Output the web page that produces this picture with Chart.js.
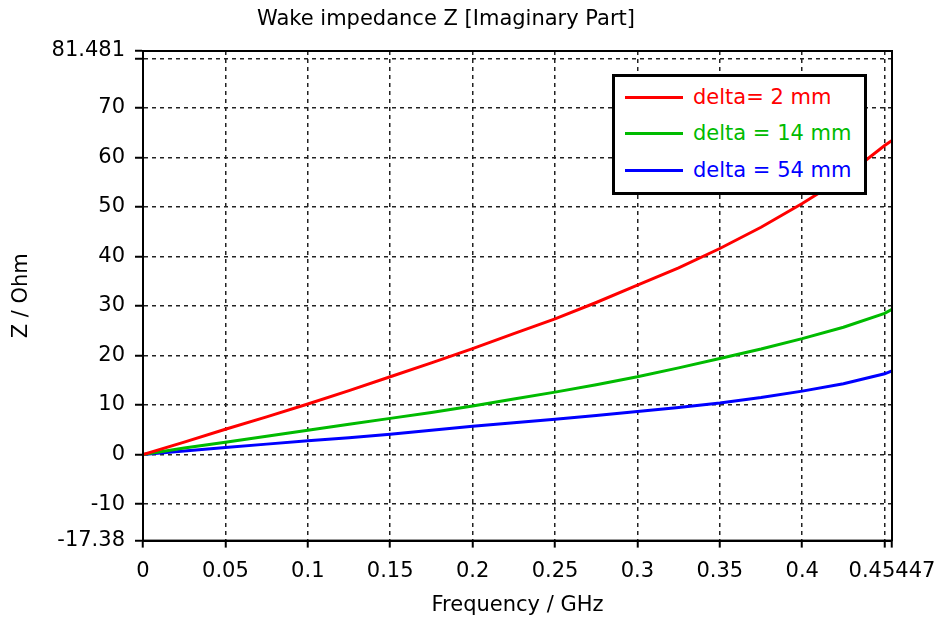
<!DOCTYPE html>
<html>
<head>
<meta charset="utf-8">
<script src="https://cdn.jsdelivr.net/npm/chart.js@4/dist/chart.umd.min.js"></script>
<style>
  html, body { margin: 0; padding: 0; background: #fff; }
  #wrap { position: relative; width: 937px; height: 620px; }
  #c { position: absolute; left: 0; top: 0; }
  #legend {
    position: absolute; left: 612px; top: 74px; width: 249px; height: 115px;
    border: 3px solid #000; background: #fff;
    font-family: "DejaVu Sans", sans-serif; font-size: 21px;
  }
  .row { position: absolute; left: 0; height: 26px; line-height: 26px; white-space: nowrap; }
  .sw { position: absolute; left: 10px; width: 58px; height: 3px; top: 12px; }
  .tx { position: absolute; left: 78px; top: 0; }
</style>
</head>
<body>
<div id="wrap">
  <canvas id="c" width="937" height="620"></canvas>
  <div id="legend"></div>
</div>
<script>
// ---- data ----
const freq = [0, 0.025, 0.05, 0.075, 0.1, 0.125, 0.15, 0.175, 0.2, 0.225, 0.25, 0.275, 0.3, 0.325, 0.35, 0.375, 0.4, 0.425, 0.45, 0.45447];
const seriesNames = ["delta= 2 mm", "delta = 14 mm", "delta = 54 mm"];
const delta2 = [0, 2.5, 5.1, 7.6, 10.2, 12.9, 15.7, 18.5, 21.4, 24.4, 27.4, 30.7, 34.2, 37.7, 41.6, 45.9, 50.7, 55.9, 62.4, 63.4];
const delta14 = [0, 1.3, 2.5, 3.7, 4.9, 6.1, 7.3, 8.5, 9.8, 11.2, 12.6, 14.1, 15.7, 17.5, 19.4, 21.3, 23.4, 25.7, 28.5, 29.3];
const delta54 = [0, 0.7, 1.4, 2.1, 2.8, 3.4, 4.1, 4.9, 5.7, 6.4, 7.1, 7.9, 8.7, 9.5, 10.4, 11.5, 12.8, 14.3, 16.3, 16.9];
const xTickValues = [0, 0.05, 0.1, 0.15, 0.2, 0.25, 0.3, 0.35, 0.4, 0.45, 0.45447];
const xTickLabels = ["0", "0.05", "0.1", "0.15", "0.2", "0.25", "0.3", "0.35", "0.4", "", "0.45447"];
const yTickValues = [-17.38, -10, 0, 10, 20, 30, 40, 50, 60, 70, 80, 81.481];
const yTickLabels = ["-17.38", "-10", "0", "10", "20", "30", "40", "50", "60", "70", "", "81.481"];
const titleText = "Wake impedance Z [Imaginary Part]";
const xTitle = "Frequency / GHz";
const yTitle = "Z / Ohm";
const colors = ["#ff0000", "#00bb00", "#0000ff"];

const allSeries = [delta2, delta14, delta54];
const FONT = "'DejaVu Sans', sans-serif";

const boxPlugin = {
  id: 'plotBox',
  afterDatasetsDraw(chart) {
    const a = chart.chartArea, ctx = chart.ctx;
    ctx.save();
    ctx.strokeStyle = '#000';
    ctx.lineWidth = 2;
    ctx.strokeRect(a.left, a.top, a.right - a.left, a.bottom - a.top);
    ctx.restore();
  }
};

new Chart(document.getElementById('c'), {
  type: 'line',
  data: {
    datasets: allSeries.map((s, i) => ({
      label: seriesNames[i],
      data: freq.map((f, j) => ({ x: f, y: s[j] })),
      borderColor: colors[i],
      borderWidth: 3,
      pointRadius: 0,
      tension: 0,
      fill: false
    }))
  },
  options: {
    responsive: false,
    animation: false,
    layout: { padding: { left: 0, right: 45, top: 0, bottom: 0 } },
    plugins: {
      legend: { display: false },
      tooltip: { enabled: false },
      title: {
        display: true, text: titleText, color: '#000',
        font: { family: FONT, size: 21, weight: 'normal', lineHeight: 1.2 },
        padding: { top: 7.4, bottom: 18.4 }
      }
    },
    scales: {
      x: {
        type: 'linear', min: 0, max: 0.45447,
        afterBuildTicks: s => { s.ticks = xTickValues.map(v => ({ value: v })); },
        afterFit: s => { s.height = 79.4; s.paddingRight = 0; s.paddingLeft = 0; },
        ticks: {
          autoSkip: false, maxRotation: 0, color: '#000', padding: 11,
          font: { family: FONT, size: 21 },
          callback: (v, i) => xTickLabels[i]
        },
        grid: { color: '#222', lineWidth: 1.5, tickLength: 7, tickColor: '#000', tickWidth: 2, tickBorderDash: [] },
        border: { display: true, color: '#000', width: 2, dash: [4, 4] },
        title: {
          display: true, text: xTitle, color: '#000',
          font: { family: FONT, size: 21, lineHeight: 1.2 },
          padding: { top: 0, bottom: 2 }
        }
      },
      y: {
        type: 'linear', min: -17.38, max: 81.481,
        afterBuildTicks: s => { s.ticks = yTickValues.map(v => ({ value: v })); },
        afterFit: s => { s.width = 143; },
        ticks: {
          autoSkip: false, color: '#000', padding: 10,
          font: { family: FONT, size: 21 },
          callback: (v, i) => yTickLabels[i]
        },
        grid: { color: '#222', lineWidth: 1.5, tickLength: 8, tickColor: '#000', tickWidth: 2, tickBorderDash: [] },
        border: { display: true, color: '#000', width: 2, dash: [4, 4] },
        title: {
          display: true, text: yTitle, color: '#000',
          font: { family: FONT, size: 21, lineHeight: 1.2 },
          padding: { top: 9, bottom: 0 }
        }
      }
    }
  },
  plugins: [boxPlugin]
});

// HTML legend built from the series names/colors
const leg = document.getElementById('legend');
const rowTops = [7, 43, 80];
seriesNames.forEach((n, i) => {
  const r = document.createElement('div');
  r.className = 'row';
  r.style.top = rowTops[i] + 'px';
  r.innerHTML = '<span class="sw" style="background:' + colors[i] + '"></span><span class="tx" style="color:' + colors[i] + '">' + n + '</span>';
  leg.appendChild(r);
});
</script>
</body>
</html>
